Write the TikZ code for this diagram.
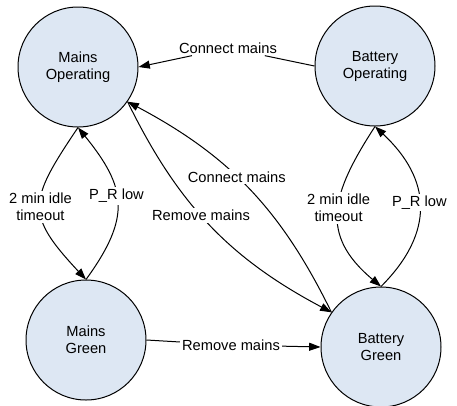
\documentclass[tikz,border=0pt]{standalone}
\usepackage{fontspec}
\setmainfont{Liberation Sans}
\usetikzlibrary{arrows.meta}
\definecolor{stfill}{RGB}{221,231,243}
\begin{document}
\begin{tikzpicture}[x=0.75pt,y=-0.75pt,
  font=\fontsize{11}{12.75}\selectfont,
  stnode/.style={circle, draw, fill=stfill, minimum size=90pt, inner sep=0pt, align=center, line width=0.75pt},
  lbl/.style={fill=white, inner sep=1.5pt, align=center},
  conn/.style={line width=0.75pt, -{Triangle[length=8.5pt,width=6pt]}},
  plain/.style={line width=0.75pt}]
\useasboundingbox (0,0) rectangle (457,405);
\node[stnode] (MO) at (78,67) {Mains\\Operating};
\node[stnode] (BO) at (375,66) {Battery\\Operating};
\node[stnode] (MG) at (86,340) {Mains\\Green};
\node[stnode] (BG) at (381,347) {Battery\\Green};
% top connect mains
\node[lbl] (cm) at (228,48) {Connect mains};
\draw[plain] (BO.180) -- (cm);
\draw[conn] (cm) -- (MO.0);
% bottom remove mains
\node[lbl] (rm) at (231,345) {Remove mains};
\draw[plain] (MG.0) -- (rm);
\draw[conn] (rm) -- (BG.180);
% left pair
\draw[conn] (MO.-90) to[out=-124, in=133, looseness=1.5] node[lbl]{2 min idle\\timeout} (MG.90);
\draw[conn] (MG.90) to[out=54, in=-51, looseness=1.3] node[lbl, pos=0.55]{P\_R low} (MO.-90);
% right pair
\draw[conn] (BO.-90) to[out=-123, in=140, looseness=1.29] node[lbl, pos=0.47]{2 min idle\\timeout} (BG.90);
\draw[conn] (BG.90) to[out=45, in=-43, looseness=1.23] node[lbl, pos=0.52]{P\_R low} (BO.-90);
% middle lens
\draw[conn] (BG.145) to[bend right=18] node[lbl, pos=0.56]{Connect mains} (MO.-35);
\draw[conn] (MO.-35) to[bend right=18] node[lbl, pos=0.45]{Remove mains} (BG.145);
\end{tikzpicture}
\end{document}
